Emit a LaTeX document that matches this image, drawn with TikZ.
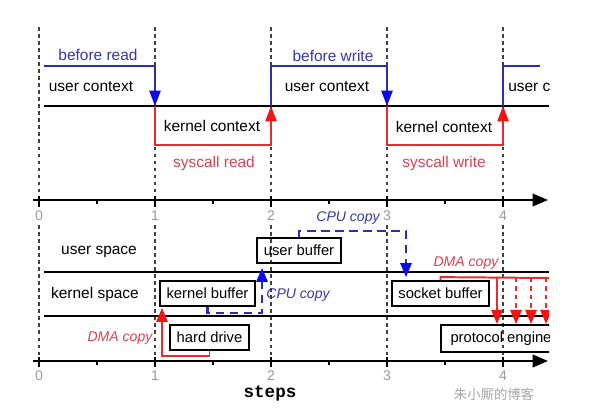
\documentclass[tikz,border=0pt]{standalone}
\usepackage{fontspec}
\setmainfont{Liberation Sans}
\setmonofont{Liberation Mono}
\newfontfamily\cjk{Noto Sans CJK SC}
\usetikzlibrary{arrows.meta,calc}
\definecolor{ctxblue}{RGB}{45,45,185}
\definecolor{tipblue}{RGB}{10,10,235}
\definecolor{ctxred}{RGB}{228,45,45}
\definecolor{tipred}{RGB}{240,20,20}
\definecolor{lblblue}{RGB}{55,55,165}
\definecolor{lblred}{RGB}{214,68,82}
\begin{document}
\begin{tikzpicture}[x=0.025cm, y=-0.025cm,
  lbl/.style={font=\fontsize{11}{13}\selectfont, inner sep=0},
  num/.style={font=\fontsize{10}{12}\selectfont, text=black!40, inner sep=0},
  cpulbl/.style={font=\itshape\fontsize{10}{12}\selectfont, text=lblblue, inner sep=0},
  dmalbl/.style={font=\itshape\fontsize{10}{12}\selectfont, text=lblred, inner sep=0},
  buf/.style={draw, line width=1.4pt, font=\fontsize{10.5}{12}\selectfont, minimum height=0.62cm, inner sep=2pt},
  rule/.style={line width=1.3pt},
  axis/.style={line width=1.5pt, -{Triangle[width=9pt,length=11pt]}},
  guide/.style={line width=0.9pt, black!75, dash pattern=on 2.5pt off 2.5pt},
  usr/.style={ctxblue, line width=1.4pt, -{Triangle[width=8pt,length=11pt,color=tipblue]}},
  usrline/.style={ctxblue, line width=1.4pt},
  krn/.style={ctxred, line width=1.4pt, -{Triangle[width=8pt,length=11pt,color=tipred]}},
  cpucopy/.style={ctxblue, line width=1.6pt, dash pattern=on 6pt off 4pt, -{Triangle[width=8pt,length=10pt,color=tipblue]}},
  dmacopy/.style={ctxred, line width=1.4pt, -{Triangle[width=8pt,length=10pt,color=tipred]}}]
\fill[white] (0,0) rectangle (611,415);
\useasboundingbox (0,0) rectangle (611,415);

\begin{scope}
\clip (0,0) rectangle (549,415);
% step grid
\foreach \i in {0,...,4}{
  \coordinate (hi\i) at (39+116*\i,66);
  \coordinate (mid\i) at (39+116*\i,106);
  \coordinate (lo\i) at (39+116*\i,145);
  \draw[guide] (39+116*\i,27) -- (39+116*\i,200);
  \draw[guide] (39+116*\i,225) -- (39+116*\i,361);
  \node[num] (tt\i) at (39+116*\i,216) {\i};
  \node[num] (tb\i) at (39+116*\i,376) {\i};
  \draw[line width=1.3pt] (39+116*\i,196) -- ++(0,11);
  \draw[line width=1.3pt] (39+116*\i,357) -- ++(0,10);
  \draw[line width=0.8pt] (97+116*\i,200) -- ++(0,4);
  \draw[line width=0.8pt] (97+116*\i,361) -- ++(0,4);
}
\draw[axis] (33,200) -- (548,200);
\draw[axis] (33,361) -- (548,361);

% contexts
\draw[rule] (44,106) -- (549,106);
\coordinate (start) at (44,66);
\coordinate (stop) at (540,66);
\draw[usr] (start) -- (hi1) -- (mid1);
\draw[krn] (mid1) -- (lo1) -- (lo2) -- (mid2);
\draw[usr] (mid2) -- (hi2) -- (hi3) -- (mid3);
\draw[krn] (mid3) -- (lo3) -- (lo4) -- (mid4);
\draw[usrline] (mid4) -- (hi4) -- (stop);

\node[lbl, text=lblblue] (bread) at (98,55) {before read};
\node[lbl] (uctx1) at (91,87) {user context};
\node[lbl] (kctx1) at (212,126) {kernel context};
\node[lbl, text=lblred] (sread) at (214,163) {syscall read};
\node[lbl, text=lblblue] (bwrite) at (333,56) {before write};
\node[lbl] (uctx2) at (327,87) {user context};
\node[lbl] (kctx2) at (444,127) {kernel context};
\node[lbl, text=lblred] (swrite) at (444,163) {syscall write};
\node[lbl, anchor=west] (uctx3) at (508,87) {user context};

% spaces
\draw[rule] (44,272) -- (549,272);
\draw[rule] (44,316) -- (549,316);
\node[lbl] (uspace) at (99,252) {user space};
\node[lbl] (kspace) at (95,294) {kernel space};

\node[buf, minimum width=2.375cm] (kbuf) at (207.5,293.5) {kernel buffer};
\node[buf, minimum width=1.975cm] (hdrv) at (209.5,337.5) {hard drive};
\node[buf, minimum width=2.1cm] (ubuf) at (299,250.5) {user buffer};
\node[buf, minimum width=2.425cm] (sbuf) at (440.5,293.5) {socket buffer};
\node[buf, minimum width=3cm, minimum height=0.675cm] (peng) at (501,338.5) {protocol engine};

\draw[dmacopy] (hdrv.south) -- ++(0,5) -| ($(kbuf.south west)+(3,1)$);
\draw[cpucopy] (kbuf.south) -- ++(0,6) -| ($(ubuf.south west)+(6,4)$);
\draw[cpucopy] (ubuf.north) -- ++(0,-6) -| ($(sbuf.north west)+(15,-3)$);
\coordinate (dmaend) at (549,278);
\draw[ctxred, line width=1.4pt] (sbuf.north) -- ++(0,-3) -- (dmaend);
\draw[dmacopy] (497,278) -- (497,278 |- peng.north);
\foreach \x in {516,531,546}
  \draw[dmacopy, dash pattern=on 3pt off 3pt] (\x,278) -- (\x,278 |- peng.north);

\node[cpulbl] (cpu1) at (298,295) {CPU copy};
\node[cpulbl] (cpu2) at (348,218) {CPU copy};
\node[dmalbl] (dma1) at (120,338) {DMA copy};
\node[dmalbl] (dma2) at (466,263) {DMA copy};
\end{scope}

\node[font=\ttfamily\bfseries\fontsize{12.5}{14}\selectfont, inner sep=0] (steps) at (270,393) {steps};
\node[font=\cjk\fontsize{9.5}{11}\selectfont, text=black!35, inner sep=0] (mark) at (494,394) {朱小厮的博客};
\end{tikzpicture}
\end{document}
